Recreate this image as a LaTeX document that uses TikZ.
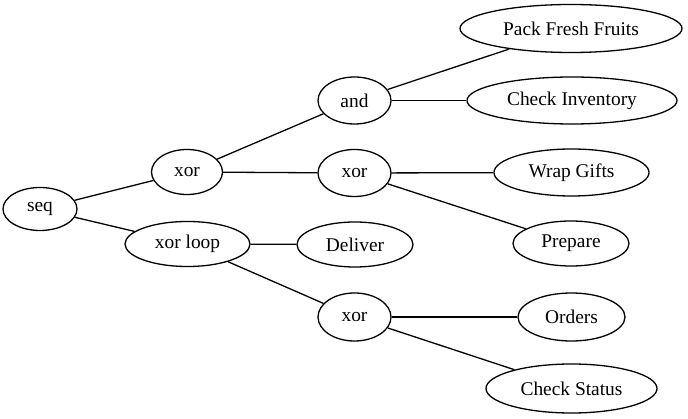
\documentclass[tikz,border=0pt]{standalone}
\usepackage{fontspec}
\setmainfont{Liberation Serif}
\usetikzlibrary{shapes.geometric}
\begin{document}
\begin{tikzpicture}[x=1pt,y=-1pt,
  nd/.style={ellipse,draw,line width=1.3pt,inner sep=0pt,minimum height=47pt,
    font=\fontsize{19.4}{23}\selectfont},
  ln/.style={line width=1.3pt}]
\useasboundingbox (0,0) rectangle (688,419);
\node[nd,minimum width=74pt,minimum height=43pt] (seq) at (40,209) {seq};
\node[nd,minimum width=71pt,minimum height=45pt] (x1) at (187,172) {xor};
\node[nd,minimum width=125pt,minimum height=45pt] (xl) at (187.5,244) {xor loop};
\node[nd,minimum width=73pt] (and) at (354.5,100.5) {and};
\node[nd,minimum width=73pt] (x2) at (354.5,173) {xor};
\node[nd,minimum width=116pt,minimum height=45pt] (del) at (355,244.5) {Deliver};
\node[nd,minimum width=73pt,minimum height=48pt] (x3) at (354.5,317) {xor};
\node[nd,minimum width=222pt,minimum height=48pt] (pff) at (571,28.5) {Pack Fresh Fruits};
\node[nd,minimum width=210pt] (ci) at (572,100.5) {Check Inventory};
\node[nd,minimum width=155pt] (wg) at (571.5,172.5) {Wrap Gifts};
\node[nd,minimum width=116pt,minimum height=45pt] (pr) at (571,243.5) {Prepare};
\node[nd,minimum width=107pt,minimum height=48pt] (ord) at (571.5,317) {Orders};
\node[nd,minimum width=171pt,minimum height=49pt] (cs) at (571.5,388.5) {Check Status};
\draw[ln] (seq) -- (x1);
\draw[ln] (seq) -- (xl);
\draw[ln] (x1) -- (and);
\draw[ln] (x1) -- (x2);
\draw[ln] (xl) -- (del);
\draw[ln] (xl) -- (x3);
\draw[ln] (and) -- (pff);
\draw[ln] (and) -- (ci);
\draw[ln] (x2) -- (wg);
\draw[ln] (x2) -- (pr);
\draw[ln] (x3) -- (ord);
\draw[ln] (x3) -- (cs);
\end{tikzpicture}
\end{document}
